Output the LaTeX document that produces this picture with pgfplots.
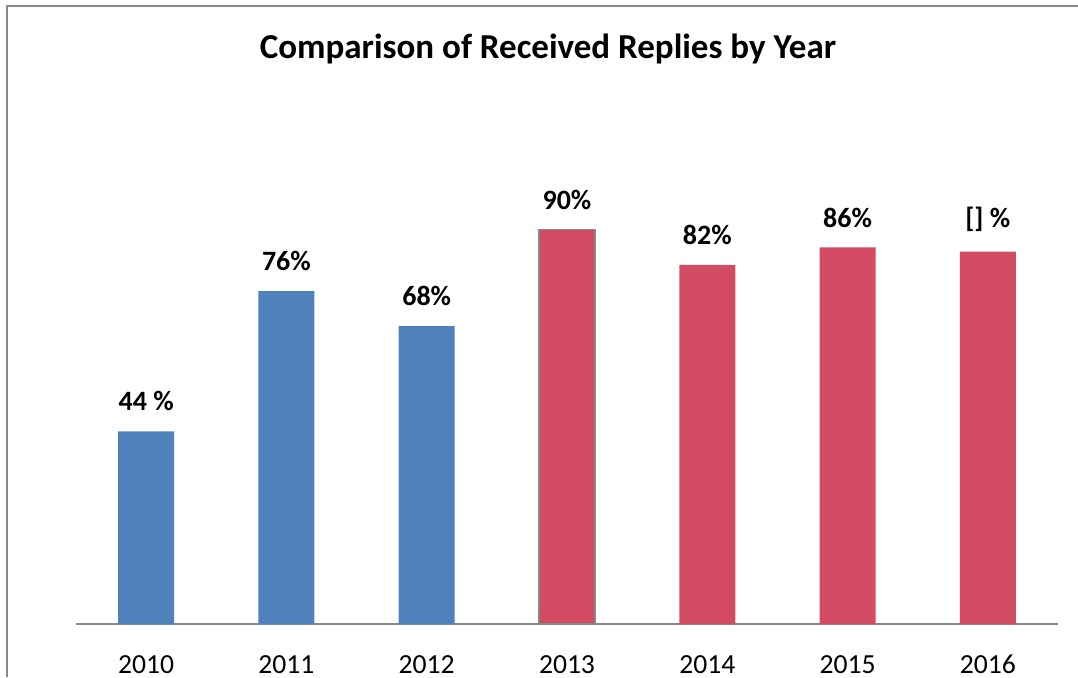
\documentclass[border=0pt]{standalone}
\usepackage{pgfplots}
\pgfplotsset{compat=1.18}
\usepackage{fontspec}
\setmainfont{Carlito}
\definecolor{barblue}{RGB}{79,129,189}
\definecolor{barred}{RGB}{211,75,98}
\definecolor{framegray}{RGB}{136,136,136}
\begin{document}
\begin{tikzpicture}
\path[use as bounding box] (0,0) rectangle (539pt,338.5pt);
\draw[framegray, line width=1pt] (3.5pt,0) -- (3.5pt,335.5pt) -- (545pt,335.5pt);
\node[font=\bfseries\fontsize{17.5}{20}\selectfont] at (274pt,314pt) {Comparison of Received Replies by Year};
\begin{axis}[
  at={(38pt,26.5pt)}, anchor=south west,
  scale only axis, width=491pt, height=219pt,
  xmin=-0.5, xmax=6.5, ymin=0, ymax=100,
  axis y line=none,
  axis x line*=bottom,
  x axis line style={framegray, line width=1pt, -},
  xtick={0,1,2,3,4,5,6},
  xticklabels={2010,2011,2012,2013,2014,2015,2016},
  xtick style={draw=none},
  xticklabel style={font=\fontsize{13.8}{16}\selectfont, anchor=base, inner sep=0.5pt, yshift=-20.5pt},
  ybar, bar width=28pt, bar shift=0pt,
  nodes near coords,
  point meta=explicit symbolic,
  every node near coord/.append style={font=\bfseries\fontsize{14}{16}\selectfont, yshift=6.5pt},
  clip=false,
]
\addplot[fill=barblue, draw=none] table[meta=label] {
x y label
0 44 {44 \%}
1 76 76\%
2 68 68\%
};
\addplot[fill=barred, draw=none] table[meta=label] {
x y label
3 90 90\%
4 82 82\%
5 86 86\%
6 85 {[] \%}
};
\draw[framegray, line width=0.6pt] (axis cs:2.8,0) rectangle (axis cs:3.2,90);
\end{axis}
\end{tikzpicture}
\end{document}
